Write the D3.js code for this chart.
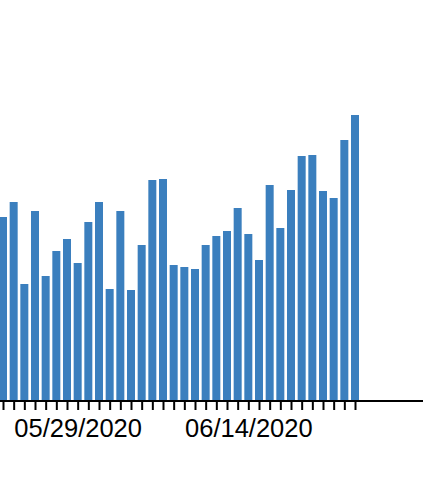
<!DOCTYPE html>
<html>
<head>
<meta charset="utf-8">
<script src="https://cdn.jsdelivr.net/npm/d3@7"></script>
<style>
  html, body { margin: 0; padding: 0; background: #fff; overflow: hidden; }
  svg { display: block; }
</style>
</head>
<body>
<script>
// Daily values, 05/22/2020 .. 06/24/2020
const dates = [
  "05/22/2020","05/23/2020","05/24/2020","05/25/2020","05/26/2020","05/27/2020","05/28/2020",
  "05/29/2020","05/30/2020","05/31/2020","06/01/2020","06/02/2020","06/03/2020","06/04/2020",
  "06/05/2020","06/06/2020","06/07/2020","06/08/2020","06/09/2020","06/10/2020","06/11/2020",
  "06/12/2020","06/13/2020","06/14/2020","06/15/2020","06/16/2020","06/17/2020","06/18/2020",
  "06/19/2020","06/20/2020","06/21/2020","06/22/2020","06/23/2020","06/24/2020"
];
const values = [
  183, 198, 116, 189, 124, 149, 161,
  137, 178, 198, 111, 189, 110, 155,
  220, 221, 135, 133, 131, 155, 164,
  169, 192, 166, 140, 215, 172, 210,
  244, 245, 209, 202, 260, 285
];
const labeledTicks = ["05/29/2020", "06/14/2020"];

const W = 423, H = 478;
const baseY = 400;
const parse = d3.timeParse("%m/%d/%Y");
const fmt = d3.timeFormat("%m/%d/%Y");
const data = dates.map((d, i) => ({ date: parse(d), value: values[i] }));

const svg = d3.select("body").append("svg").attr("width", W).attr("height", H);

const x = d3.scaleTime()
  .domain(d3.extent(data, d => d.date))
  .range([3, 355]);
const y = d3.scaleLinear().domain([0, 400]).range([baseY, 0]);
const barW = 8;

svg.append("g").selectAll("rect").data(data).join("rect")
  .attr("x", d => x(d.date) - barW / 2)
  .attr("y", d => y(d.value))
  .attr("width", barW)
  .attr("height", d => y(0) - y(d.value))
  .attr("fill", "#3b7fbe");

const axis = d3.axisBottom(x)
  .tickValues(data.map(d => d.date))
  .tickSize(9)
  .tickPadding(9)
  .tickSizeOuter(0)
  .tickFormat(d => labeledTicks.includes(fmt(d)) ? fmt(d) : "");

const gx = svg.append("g").attr("transform", `translate(0,${baseY + 1})`).call(axis);
gx.select(".domain").remove();
gx.selectAll(".tick line").attr("stroke", "#000").attr("stroke-width", 2);
gx.selectAll(".tick text")
  .attr("fill", "#000")
  .style("font-family", "'Liberation Sans', Arial, Helvetica, sans-serif")
  .style("font-size", "25.5px");

svg.append("line")
  .attr("x1", 0).attr("x2", W)
  .attr("y1", baseY + 1).attr("y2", baseY + 1)
  .attr("stroke", "#000").attr("stroke-width", 2);
</script>
</body>
</html>
